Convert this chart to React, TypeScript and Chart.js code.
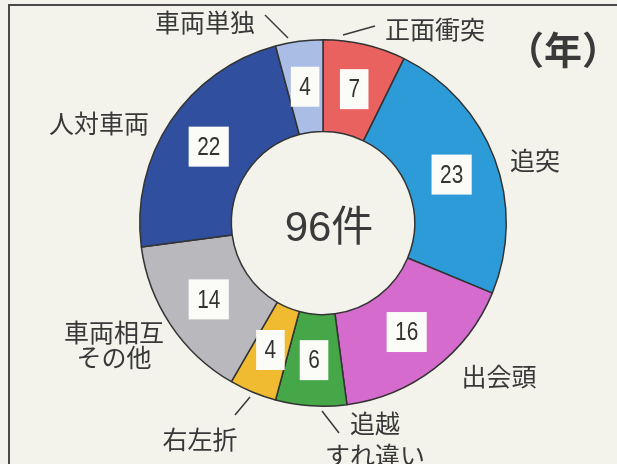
import React, { useEffect, useRef } from "react";
import { Chart, registerables } from "chart.js";

Chart.register(...registerables);

const categories = ["正面衝突", "追突", "出会頭", "追越すれ違い", "右左折", "車両相互その他", "人対車両", "車両単独"];
const counts = [7, 23, 16, 6, 4, 14, 22, 4];
const colors = ["#e9625f", "#2e9bd9", "#d46bcd", "#46a749", "#f0bb30", "#b9b9bd", "#30509f", "#a9bde5"];
const totalLabel = "96件";
const unitLabel = "（年）";

// label layout (offsets from ring centre, in px), lines of text per label
const labelLines = [["正面衝突"], ["追突"], ["出会頭"], ["追越", "すれ違い"], ["右左折"], ["車両相互", "その他"], ["人対車両"], ["車両単独"]];
const labelOffsets = [[112, -194], [212, -63], [176, 153], [52, 200], [-123, 216], [-209, 109], [-224, -100], [-118, -201]];
const lineHeights = [0, 0, 0, 32, 0, 25, 0, 0];
const leaders: (number[] | null)[] = [[20, -188, 52, -197], null, null, [-1, 188, 16, 210], [-73, 174, -88, 192], null, null, [-58, -208, -35, -185]];

const labelPlugin = {
  id: "labels",
  afterDatasetsDraw(chart: any) {
    const ctx = chart.ctx;
    const meta = chart.getDatasetMeta(0);
    const arc0 = meta.data[0];
    const cx = arc0.x, cy = arc0.y;
    ctx.save();
    // value boxes
    meta.data.forEach((arc: any, i: number) => {
      const mid = (arc.startAngle + arc.endAngle) / 2;
      const r = (arc.innerRadius + arc.outerRadius) / 2;
      const x = cx + Math.cos(mid) * r;
      const y = cy + Math.sin(mid) * r;
      const txt = String(counts[i]);
      const sx = 0.8;
      ctx.font = "26px 'Liberation Sans', Arial, sans-serif";
      const w = ctx.measureText(txt).width * sx + 17;
      const h = 40;
      ctx.fillStyle = "#fbfbf8";
      ctx.fillRect(x - w / 2, y - h / 2, w, h);
      ctx.fillStyle = "#333333";
      ctx.textAlign = "center";
      ctx.textBaseline = "middle";
      ctx.save();
      ctx.translate(x, y + 1);
      ctx.scale(sx, 1);
      ctx.fillText(txt, 0, 0);
      ctx.restore();
    });
    // centre total
    ctx.fillStyle = "#3a3a3a";
    ctx.font = "42px 'Liberation Sans', 'Noto Sans CJK JP', sans-serif";
    ctx.textAlign = "center";
    ctx.textBaseline = "middle";
    ctx.fillText(totalLabel, cx + 6, cy + 6);
    // category labels
    ctx.font = "25px 'Noto Sans CJK JP', sans-serif";
    ctx.fillStyle = "#383838";
    labelLines.forEach((lines, i) => {
      const [dx, dy] = labelOffsets[i];
      lines.forEach((t, k) => {
        ctx.fillText(t, cx + dx, cy + dy + k * lineHeights[i]);
      });
    });
    // leader lines
    ctx.strokeStyle = "#3a3a3a";
    ctx.lineWidth = 1.5;
    leaders.forEach((l) => {
      if (!l) return;
      ctx.beginPath();
      ctx.moveTo(cx + l[0], cy + l[1]);
      ctx.lineTo(cx + l[2], cy + l[3]);
      ctx.stroke();
    });
    // unit
    ctx.font = "bold 38px 'Noto Sans CJK JP', sans-serif";
    ctx.fillStyle = "#3a3a3a";
    ctx.fillText(unitLabel, cx + 240, cy - 173);
    ctx.restore();
  },
};

export default function App() {
  const ref = useRef<HTMLCanvasElement>(null);
  useEffect(() => {
    document.body.style.margin = "0";
    const chart = new Chart(ref.current!, {
      type: "doughnut",
      data: {
        labels: categories,
        datasets: [
          {
            data: counts,
            backgroundColor: colors,
            borderColor: "#333333",
            borderWidth: 1.5,
          },
        ],
      },
      options: {
        animation: false,
        responsive: false,
        cutout: "50%",
        layout: { padding: { left: 139, right: 110, top: 39, bottom: 57 } },
        plugins: { legend: { display: false }, tooltip: { enabled: false } },
      },
      plugins: [labelPlugin],
    });
    return () => chart.destroy();
  }, []);
  return (
    <div style={{ position: "relative", width: 617, height: 464, background: "#f3f3eb", overflow: "hidden" }}>
      <div
        style={{
          position: "absolute",
          left: 8,
          top: 4,
          width: 700,
          height: 600,
          borderLeft: "2px solid #4a4a4a",
          borderTop: "2px solid #4a4a4a",
        }}
      />
      <canvas ref={ref} width={617} height={464} style={{ position: "absolute", left: 0, top: 0 }} />
    </div>
  );
}
